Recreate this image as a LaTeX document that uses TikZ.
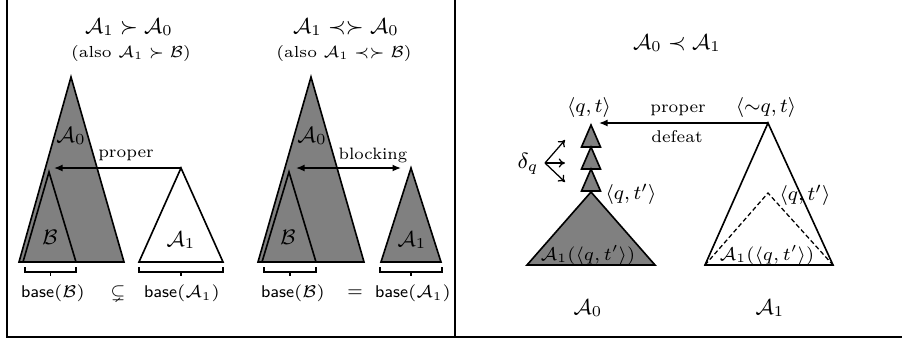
\RequirePackage{fix-cm}
\documentclass[tikz,border=0pt]{standalone}
\usepackage{amsmath,amssymb}
\usetikzlibrary{arrows.meta}
\newcommand\fsz[1]{\fontsize{#1}{#1}\selectfont}
\tikzset{
  tri/.style={draw=black, line width=0.65pt, line join=miter},
  graytri/.style={tri, fill=gray},
  whitetri/.style={tri, fill=white},
  dashtri/.style={draw=black, line width=0.5pt, dashed, dash pattern=on 1.8pt off 1.1pt},
  lbl/.style={inner sep=0pt, outer sep=0pt},
  arr/.style={line width=0.6pt, -{Latex[length=3.4pt,width=2.8pt]}},
  darr/.style={line width=0.6pt, {Latex[length=3.4pt,width=2.8pt]}-{Latex[length=3.4pt,width=2.8pt]}},
  thinarr/.style={line width=0.5pt, -{To[length=2.5pt,width=3.6pt]}},
  bracket/.style={line width=0.6pt},
  frame/.style={line width=0.8pt},
}
\begin{document}
\begin{tikzpicture}[x=0.4pt,y=-0.4pt]
\useasboundingbox (0,0) rectangle (902,343);
% frame
\draw[frame] (7,0) -- (7,337) -- (902,337);
\draw[frame] (455,0) -- (455,337);

% ---------- left panel ----------
\coordinate (LA0t) at (71,77);  \coordinate (LA0l) at (19,262); \coordinate (LA0r) at (124,262);
\coordinate (LBt) at (49,172);  \coordinate (LBl) at (23,262);  \coordinate (LBr) at (76,262);
\coordinate (LA1t) at (181,168); \coordinate (LA1l) at (139,262); \coordinate (LA1r) at (223,262);
\coordinate (LArrEnd) at (54,168);
\draw[graytri] (LA0l) -- (LA0t) -- (LA0r) -- cycle;
\draw[graytri] (LBl) -- (LBt) -- (LBr) -- cycle;
\draw[whitetri] (LA1l) -- (LA1t) -- (LA1r) -- cycle;
\draw[arr] (LA1t) -- (LArrEnd);
\node[lbl] (ltitle) at (129,27) {\fsz{8.6}$\mathcal{A}_1 \succ \mathcal{A}_0$};
\node[lbl] (lsub) at (131,53) {\fsz{6.4}(also $\mathcal{A}_1 \succ \mathcal{B}$)};
\node[lbl] (lA0) at (71,136) {\fsz{8.8}$\mathcal{A}_0$};
\node[lbl] (lB) at (50,237) {\fsz{8.4}$\mathcal{B}$};
\node[lbl] (lA1) at (181,240) {\fsz{8.6}$\mathcal{A}_1$};
\node[lbl] (lproper) at (126,155) {\fsz{6.8}proper};
\draw[bracket] (25,267) -- (25,272) -- (76,272) -- (76,267);
\draw[bracket] (50.5,272) -- (50.5,276);
\draw[bracket] (139,267) -- (139,272) -- (223,272) -- (223,267);
\draw[bracket] (181,272) -- (181,276);
\node[lbl] (lbaseB) at (53,293) {\fsz{6.8}$\mathsf{base}(\mathcal{B})$};
\node[lbl] (lrel) at (118,293) {\fsz{6.8}$\subsetneq$};
\node[lbl] (lbaseA) at (182,293) {\fsz{6.8}$\mathsf{base}(\mathcal{A}_1)$};

% ---------- middle panel ----------
\coordinate (MA0t) at (311,77);  \coordinate (MA0l) at (258,262); \coordinate (MA0r) at (364,262);
\coordinate (MBt) at (289,172);  \coordinate (MBl) at (262,262);  \coordinate (MBr) at (316,262);
\coordinate (MA1t) at (411,168); \coordinate (MA1l) at (381,262); \coordinate (MA1r) at (441,262);
\coordinate (MArrL) at (296,168); \coordinate (MArrR) at (401,168);
\draw[graytri] (MA0l) -- (MA0t) -- (MA0r) -- cycle;
\draw[graytri] (MBl) -- (MBt) -- (MBr) -- cycle;
\draw[graytri] (MA1l) -- (MA1t) -- (MA1r) -- cycle;
\draw[darr] (MArrL) -- (MArrR);
\node[lbl] (mtitle) at (346,27) {\fsz{8.6}$\mathcal{A}_1 \prec\succ \mathcal{A}_0$};
\node[lbl] (msub) at (344,53) {\fsz{6.4}(also $\mathcal{A}_1 \prec\succ \mathcal{B}$)};
\node[lbl] (mA0) at (312,136) {\fsz{8.8}$\mathcal{A}_0$};
\node[lbl] (mB) at (288,237) {\fsz{8.4}$\mathcal{B}$};
\node[lbl] (mA1) at (412,240) {\fsz{8.6}$\mathcal{A}_1$};
\node[lbl] (mblock) at (373,155) {\fsz{6.6}blocking};
\draw[bracket] (264,267) -- (264,272) -- (316,272) -- (316,267);
\draw[bracket] (290,272) -- (290,276);
\draw[bracket] (380,267) -- (380,272) -- (442,272) -- (442,267);
\draw[bracket] (411,272) -- (411,276);
\node[lbl] (mbaseB) at (293,293) {\fsz{6.8}$\mathsf{base}(\mathcal{B})$};
\node[lbl] (mrel) at (355,293) {\fsz{6.8}$=$};
\node[lbl] (mbaseA) at (413,293) {\fsz{6.8}$\mathsf{base}(\mathcal{A}_1)$};

% ---------- right panel ----------
\node[lbl] (rtitle) at (677,43) {\fsz{8.6}$\mathcal{A}_0 \prec \mathcal{A}_1$};
% small stacked triangles
\coordinate (s1t) at (591,125); \coordinate (s1l) at (581.5,147); \coordinate (s1r) at (600.5,147);
\coordinate (s2t) at (591,147); \coordinate (s2l) at (581.5,169); \coordinate (s2r) at (600.5,169);
\coordinate (s3t) at (591,169); \coordinate (s3l) at (581.5,191); \coordinate (s3r) at (600.5,191);
\draw[graytri] (s1l) -- (s1t) -- (s1r) -- cycle;
\draw[graytri] (s2l) -- (s2t) -- (s2r) -- cycle;
\draw[graytri] (s3l) -- (s3t) -- (s3r) -- cycle;
% big gray triangle
\coordinate (RGt) at (591,192); \coordinate (RGl) at (527,265); \coordinate (RGr) at (655,265);
\draw[graytri] (RGl) -- (RGt) -- (RGr) -- cycle;
% white triangle
\coordinate (RWt) at (768,123); \coordinate (RWl) at (705,265); \coordinate (RWr) at (833,265);
\coordinate (RDt) at (768,193);
\draw[tri] (RWl) -- (RWt) -- (RWr) -- cycle;
\draw[dashtri] (RWl) -- (RDt) -- (RWr);
% proper defeat arrow
\coordinate (RArrEnd) at (599,123);
\draw[arr] (RWt) -- (RArrEnd);
\node[lbl] (rproper) at (678,110) {\fsz{6.8}proper};
\node[lbl] (rdefeat) at (677,137) {\fsz{6.8}defeat};
% delta arrows
\coordinate (dO) at (545,163);
\coordinate (d1) at (565,140); \coordinate (d2) at (565,163); \coordinate (d3) at (565,182);
\draw[thinarr] (dO) -- (d1);
\draw[thinarr] (dO) -- (d2);
\draw[thinarr] (dO) -- (d3);
\node[lbl] (rdelta) at (528,164) {\fsz{8.8}$\delta_q$};
% labels
\node[lbl] (rqt) at (589,107) {\fsz{8}$\langle q, t\rangle$};
\node[lbl] (rnqt) at (766,107) {\fsz{8}$\langle {\sim} q, t\rangle$};
\node[lbl] (rqt1) at (631,194) {\fsz{8}$\langle q, t'\rangle$};
\node[lbl] (rqt2) at (805,195) {\fsz{8}$\langle q, t'\rangle$};
\node[lbl] (rsubL) at (588,255) {\fsz{7.3}$\mathcal{A}_1(\langle q, t'\rangle)$};
\node[lbl] (rsubR) at (767,255) {\fsz{7.3}$\mathcal{A}_1(\langle q, t'\rangle)$};
\node[lbl] (rA0) at (588,308) {\fsz{8.6}$\mathcal{A}_0$};
\node[lbl] (rA1) at (770,308) {\fsz{8.6}$\mathcal{A}_1$};
\end{tikzpicture}
\end{document}
